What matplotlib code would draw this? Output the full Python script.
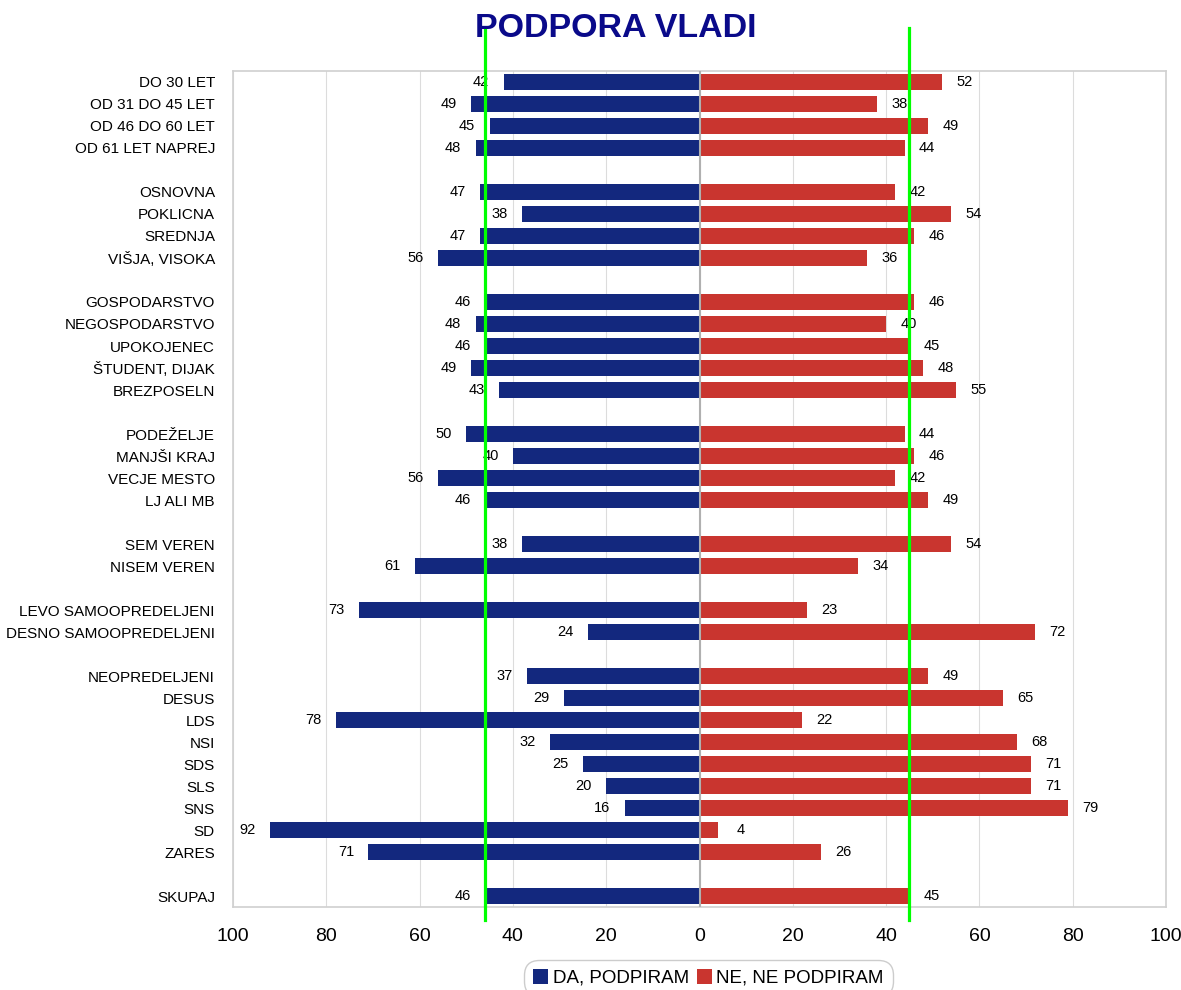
import matplotlib.pyplot as plt
from matplotlib.patches import Patch

# Data; None marks an empty spacer row
categories = [
    "DO 30 LET", "OD 31 DO 45 LET", "OD 46 DO 60 LET", "OD 61 LET NAPREJ", None,
    "OSNOVNA", "POKLICNA", "SREDNJA", "VIŠJA, VISOKA", None,
    "GOSPODARSTVO", "NEGOSPODARSTVO", "UPOKOJENEC", "ŠTUDENT, DIJAK", "BREZPOSELN", None,
    "PODEŽELJE", "MANJŠI KRAJ", "VECJE MESTO", "LJ ALI MB", None,
    "SEM VEREN", "NISEM VEREN", None,
    "LEVO SAMOOPREDELJENI", "DESNO SAMOOPREDELJENI", None,
    "NEOPREDELJENI", "DESUS", "LDS", "NSI", "SDS", "SLS", "SNS", "SD", "ZARES", None,
    "SKUPAJ",
]
da_values = [42, 49, 45, 48, 47, 38, 47, 56, 46, 48, 46, 49, 43, 50, 40, 56, 46,
             38, 61, 73, 24, 37, 29, 78, 32, 25, 20, 16, 92, 71, 46]
ne_values = [52, 38, 49, 44, 42, 54, 46, 36, 46, 40, 45, 48, 55, 44, 46, 42, 49,
             54, 34, 23, 72, 49, 65, 22, 68, 71, 71, 79, 4, 26, 45]
x_ticks = [-100, -80, -60, -40, -20, 0, 20, 40, 60, 80, 100]

BLUE = "#13287e"
RED = "#c9352f"

plt.rcParams['font.family'] = ["Liberation Sans", "DejaVu Sans"]

# row positions, skipping spacer rows
positions = [i for i, c in enumerate(categories) if c is not None]
labels = [c for c in categories if c is not None]

fig = plt.figure(figsize=(11.81, 9.9), dpi=100)
ax = fig.add_axes([0.1973, 0.0838, 0.79, 0.8445])

ax.barh(positions, [-v for v in da_values], height=0.74, color=BLUE, zorder=3)
ax.barh(positions, ne_values, height=0.74, color=RED, zorder=3)

# value labels
for y, v in zip(positions, da_values):
    ax.text(-v - 4.8, y, str(v), ha='center', va='center', fontsize=10.5, zorder=4)
for y, v in zip(positions, ne_values):
    ax.text(v + 4.8, y, str(v), ha='center', va='center', fontsize=10.5, zorder=4)

ax.set_xlim(-100, 100)
ax.set_ylim(len(categories) - 0.5, -0.5)

ax.set_yticks(positions)
ax.set_yticklabels(labels, fontsize=11)
ax.tick_params(axis='y', length=0, pad=13)

ax.set_xticks(x_ticks)
ax.set_xticklabels([str(abs(t)) for t in x_ticks], fontsize=14)
ax.tick_params(axis='x', length=0, pad=15)

ax.grid(axis='x', color='#dcdcdc', linewidth=0.8, zorder=0)
ax.axvline(0, color='#b0b0b0', linewidth=1.5, zorder=4)
for s in ax.spines.values():
    s.set_color('#d0d0d0')
    s.set_linewidth(1.2)

# reference lines at the SKUPAJ values
total_da = da_values[-1]
total_ne = ne_values[-1]
for xv in (-total_da, total_ne):
    ax.plot([xv, xv], [-2.45, 38.1], color='#00ff00', linewidth=2.3,
            clip_on=False, zorder=6)

fig.text(0.521, 0.971, "PODPORA VLADI", ha='center', va='center',
         fontsize=24.5, fontweight='bold', color='#0a0a8a')

handles = [Patch(facecolor=BLUE, label="DA, PODPIRAM"),
           Patch(facecolor=RED, label="NE, NE PODPIRAM")]
leg = fig.legend(handles=handles, loc='center', bbox_to_anchor=(0.6, 0.012),
                 ncol=2, frameon=True, handlelength=0.8,
                 handleheight=0.8, handletextpad=0.25, columnspacing=0.4,
                 borderpad=0.3, prop={'size': 13.5})
leg.get_frame().set_edgecolor('#c0c0c0')
leg.get_frame().set_boxstyle('round,pad=0.2,rounding_size=0.8')

fig.savefig("out.png", dpi=100)
